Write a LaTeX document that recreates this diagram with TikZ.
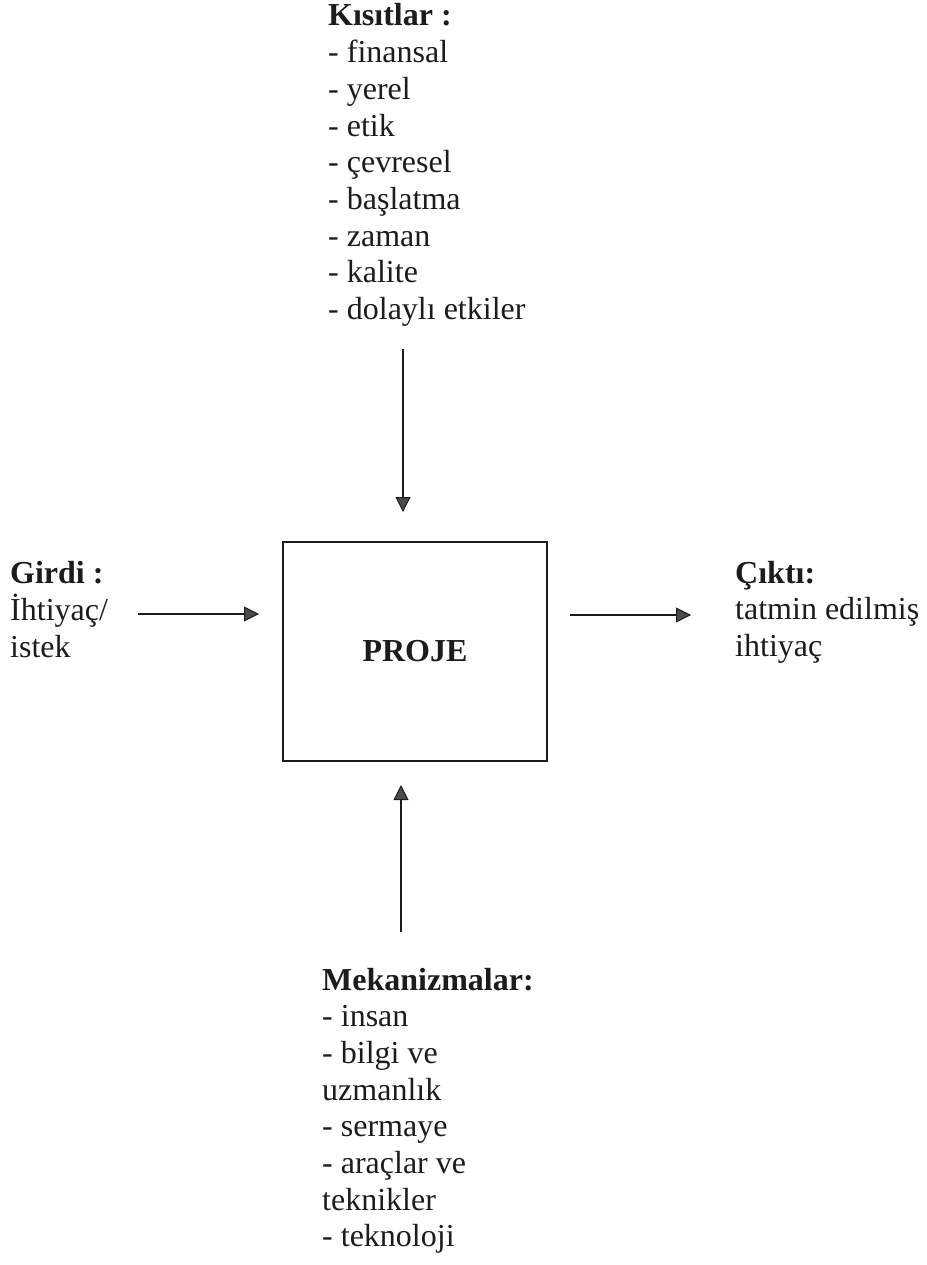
\documentclass[tikz,border=0pt]{standalone}
\usepackage{fontspec}
\setmainfont{Liberation Serif}
\usetikzlibrary{arrows.meta}
\definecolor{ink}{HTML}{1C1C1C}
\definecolor{headfill}{HTML}{4A4A4A}
\begin{document}
\begin{tikzpicture}[x=1pt,y=-1pt,
  txt/.style={inner sep=0pt, anchor=base west, text=ink,
    font=\fontsize{32}{36.7}\selectfont},
  flow/.style={draw=ink, line width=1.8pt,
    -{Triangle[length=15pt,width=15pt,fill=headfill,line width=1pt]}},
  projbox/.style={draw=ink, line width=1.8pt, inner sep=0pt,
    minimum width=264pt, minimum height=219pt, text=ink,
    font=\fontsize{32}{36.7}\selectfont\bfseries}]
  % page frame
  \useasboundingbox (0,0) rectangle (926,1265);

  % central box
  \node[projbox] (proje) at (415,651.5) {PROJE};

  % constraints (top)
  \node[txt] (kisit) at (328,26) {\begin{tabular}[t]{@{}l@{}}
    \textbf{Kısıtlar :}\\
    - finansal\\
    - yerel\\
    - etik\\
    - çevresel\\
    - başlatma\\
    - zaman\\
    - kalite\\
    - dolaylı etkiler
  \end{tabular}};

  % input (left)
  \node[txt] (girdi) at (10,583) {\begin{tabular}[t]{@{}l@{}}
    \textbf{Girdi :}\\
    İhtiyaç/\\
    istek
  \end{tabular}};

  % output (right)
  \node[txt] (cikti) at (735,583) {\begin{tabular}[t]{@{}l@{}}
    \textbf{Çıktı:}\\
    tatmin edilmiş\\
    ihtiyaç
  \end{tabular}};

  % mechanisms (bottom)
  \node[txt] (mekan) at (322,990) {\begin{tabular}[t]{@{}l@{}}
    \textbf{Mekanizmalar:}\\
    - insan\\
    - bilgi ve\\
    uzmanlık\\
    - sermaye\\
    - araçlar ve\\
    teknikler\\
    - teknoloji
  \end{tabular}};

  % arrow end points
  \coordinate (kisitA) at (403,349);
  \coordinate (kisitB) at (403,512);
  \coordinate (girdiA) at (138,614);
  \coordinate (girdiB) at (259,614);
  \coordinate (ciktiA) at (570,615);
  \coordinate (ciktiB) at (691,615);
  \coordinate (mekanA) at (401,932);
  \coordinate (mekanB) at (401,785);

  \draw[flow] (kisitA) -- (kisitB);
  \draw[flow] (girdiA) -- (girdiB);
  \draw[flow] (ciktiA) -- (ciktiB);
  \draw[flow] (mekanA) -- (mekanB);
\end{tikzpicture}
\end{document}
